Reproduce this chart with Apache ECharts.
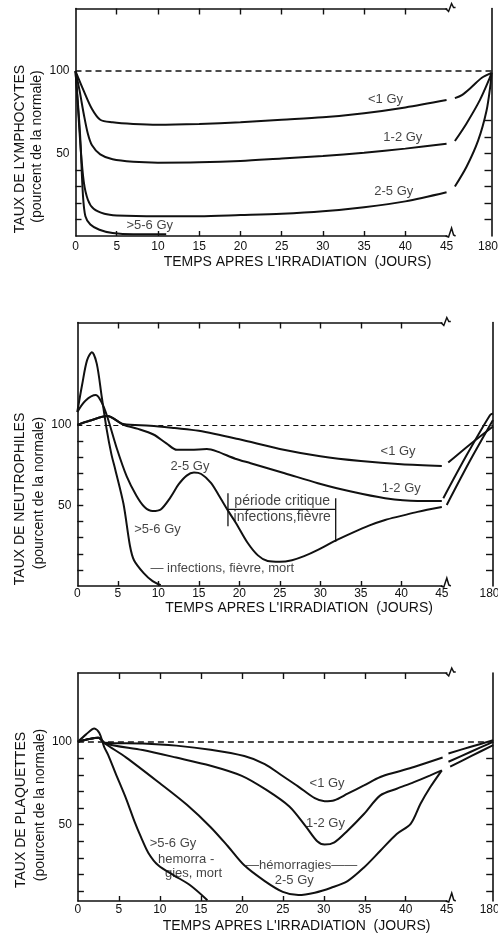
<!DOCTYPE html>
<html><head><meta charset="utf-8">
<script src="https://cdn.jsdelivr.net/npm/echarts@6/dist/echarts.min.js"></script>
<style>html,body{margin:0;padding:0;background:#fff}#c{width:498px;height:935px}</style>
</head><body><div id="c"></div>
<script>
// ---------- tick labels ----------
const xTickLabels = [0,5,10,15,20,25,30,35,40,45,180];
const xMinorTicks = [5,10,15,20,25,30,35,40];
const yTickLabels = [50,100];
const xTitle = "TEMPS APRES L'IRRADIATION  (JOURS)";

// ---------- panel 1 : lymphocytes ----------
const lymLt1     = [[0,100],[1,88],[2,77],[3,70.5],[4.5,69],[7,68],[10,67.5],[15,68],[20,69],[25,70.5],[30,72],[35,74.5],[40,78],[45,82.5]];
const lymLt1Late = [[70,83.6],[91,85.5],[121,90.5],[151,96],[180,99]];
const lym12      = [[0,100],[0.5,88],[1,74],[1.5,62],[2,55],[3,49.5],[4.5,46.5],[7,45],[10,44.5],[15,44.7],[20,45.5],[25,47],[30,48.5],[35,50.5],[40,53],[45,56]];
const lym12Late  = [[70,57.6],[105,68.3],[145,82.4],[175,96],[180,99]];
const lym25      = [[0,100],[0.3,78],[0.6,55],[1,33],[1.5,22],[2.2,16.5],[3.5,13.5],[5,12.5],[10,12],[15,12],[20,12.7],[25,13.5],[30,15],[35,17.5],[40,21],[45,26.5]];
const lym25Late  = [[70,30],[105,42],[140,58],[165,76],[177,92],[180,99]];
const lym56      = [[0,100],[0.55,62],[0.9,25],[1.2,12],[1.8,7],[2.9,3.8],[4.5,1.8],[7,1],[11,1]];
const lymLabels  = [
  {name:'<1 Gy', value:[37.6,83]},
  {name:'1-2 Gy', value:[39.7,59.6]},
  {name:'2-5 Gy', value:[38.6,27.3]},
  {name:'>5-6 Gy', value:[9,6.2]}
];

// ---------- panel 2 : neutrophiles ----------
const neuLt1     = [[0,100],[1.5,102.5],[3.7,105.5],[5.7,100.5],[9,99.5],[12,98],[15,96.3],[20,91],[25,85],[30,80.5],[35,77.5],[40,75.5],[45,74.5]];
const neuLt1Late = [[62,76.6],[120,88],[180,99]];
const neu12      = [[0,100],[1.5,102.5],[3.7,105.5],[5.7,100],[7.5,97.5],[9.4,94],[11,88.5],[12.3,84.5],[14,84.5],[16,85],[17.3,83.4],[19.5,79],[21.4,76.2],[25.6,70],[29.7,63.8],[33.8,58.6],[38,54.5],[42,52.8],[45,52.8]];
const neu12Late  = [[49,54.5],[111,81.4],[172,106],[180,107]];
const neu25      = [[0,108],[1,115],[2.3,118.5],[3,114],[3.7,105],[4.9,85],[6.1,68],[7.3,56],[8.3,49],[9.3,46.5],[10.3,47.5],[11.5,55],[12.5,63],[13.5,68.5],[14.4,70.4],[15.3,69.5],[16.5,64],[17.5,56],[18.7,46],[19.6,39],[21,27],[22.3,19],[23.5,15.5],[25,15],[26.5,16],[28,18.5],[29.7,22.4],[31.8,28],[33.8,32.7],[36,37.5],[38,41],[40,43.5],[42,46],[45,49]];
const neu25Late  = [[58,50.3],[120,78],[180,103]];
const neu56      = [[0,108],[0.6,125],[1.2,140],[1.8,145],[2.4,138],[3,118],[3.6,98],[4.2,82],[4.7,72],[5.7,51],[6.5,25],[7,16],[8.2,8],[9.3,3],[10.3,0.5]];
const neuBracketL = [[18.6,57.6],[18.6,37]];
const neuBracketH = [[18.6,47.6],[31.9,47.6]];
const neuBracketR = [[31.9,54.5],[31.9,27.5]];
const neuLabels  = [
  {name:'<1 Gy', value:[39.6,83.8]},
  {name:'1-2 Gy', value:[40,60.7]},
  {name:'2-5 Gy', value:[13.9,74]},
  {name:'>5-6 Gy', value:[9.9,35.4]},
  {name:'— infections, fièvre, mort', value:[17.9,11]}
];
const neuBoxLabels = [
  {name:'période critique', value:[25.3,52.6]},
  {name:'infections,fièvre', value:[25.3,42.6]}
];

// ---------- panel 3 : plaquettes ----------
const plaLt1     = [[0,100],[1.2,101.5],[2.5,102.5],[3.3,99.5],[7.9,99],[12,97.7],[16.2,95.2],[20.3,91.4],[22.8,86.6],[24.8,80],[26.9,73],[28.9,66],[30.1,64.2],[31.3,64.8],[32.9,68.7],[34.9,73.7],[36.9,78.8],[38.9,81.8],[41,84.8],[44.5,90.5]];
const plaLt1Late = [[50,93],[115,97],[180,101]];
const pla12      = [[0,100],[1.2,101.5],[2.5,102.5],[3.3,99],[7.9,95],[12,90.5],[16.2,85.6],[20,79.5],[23,71],[25.8,61],[27.8,49],[29.2,40],[30.1,38],[31.3,39.4],[32.9,46.4],[34.9,56.5],[36.9,67.7],[38.9,71.7],[41,75.7],[43,79.8],[44.4,82.8]];
const pla12Late  = [[50,88],[115,94],[180,100]];
const pla25      = [[0,100],[1.2,101.5],[2.5,102.5],[3.3,99],[5.9,90.5],[10,75],[13.3,62],[16.2,48.5],[18.3,37],[20.3,25.5],[22.8,16],[25,9.5],[26.9,7.6],[28.9,9],[30.9,12],[32.9,16],[34.9,24.2],[36.9,34.3],[38.9,44.4],[40.6,50.5],[41.8,62.6],[43,72.7],[44.4,82.8]];
const pla25Late  = [[55,85],[117,91.5],[180,98]];
const pla56      = [[0,100],[1,104.5],[2,108],[2.6,105.5],[3.2,97],[3.7,92],[4.6,81],[5.9,65.5],[6.9,52],[7.7,42.5],[8.6,33],[9.8,25.5],[11.7,19.5],[13.7,13.5],[15.8,4.5]];
const plaLabels  = [
  {name:'<1 Gy', value:[30.4,74.8]},
  {name:'1-2 Gy', value:[30.2,50.7]},
  {name:'2-5 Gy', value:[26.4,16.7]},
  {name:'>5-6 Gy', value:[11.6,38.5]},
  {name:'hemorra -', value:[13.2,28.8]},
  {name:'gies, mort', value:[14.1,20.6]},
  {name:'—hémorragies——', value:[27.3,25.7]}
];

// ---------- layout / style ----------
const INK = '#111';
const FONT = "'Liberation Sans', Arial, sans-serif";
const panels = [
  {grid:{left:75.5, top:8.5, width:416, height:227.5}, ymin:0, ymax:138, gap:5.45, yTicksL:[10,20,30,40], yTicksR:[10,20,30,40,50,60,70], labelMargin:5, nameGap:19, namePad:28},
  {grid:{left:77.3, top:322.5, width:415.7, height:263.5}, ymin:0, ymax:163.5, gap:6.32, yTicksL:[10,20,30,40,50,60,70,80,90], yTicksR:[10,20,30,40,50,60,70,80,90], labelMargin:2, nameGap:8, namePad:28},
  {grid:{left:77.9, top:673, width:415.3, height:228}, ymin:4, ymax:141.5, gap:5.67, yTicksL:[10,20,30,40,50,60,70,80,90], yTicksR:[10,20,30,40,50,60,70,80,90], labelMargin:3, nameGap:18, namePad:22}
];

const grids=[], xAxes=[], yAxes=[], series=[];
panels.forEach((p,k)=>{
  grids.push(Object.assign({outerBoundsMode:'none', containLabel:false}, p.grid));
  const axLine = {show:true, onZero:false, lineStyle:{color:INK, width:1.6}};
  const common = {type:'value', gridIndex:k, min:0, max:180,
    breaks:[{start:45, end:180, gap:p.gap}], breakArea:{show:false},
    axisLine:axLine, splitLine:{show:false}};
  xAxes.push(Object.assign({}, common, {position:'bottom',
    axisTick:{show:true, inside:true, length:5, customValues:xMinorTicks, lineStyle:{color:INK, width:1.4}},
    axisLabel:{show:true, customValues:xTickLabels, margin:p.labelMargin, color:INK, fontSize:12, fontFamily:FONT,
      formatter:function(v){ return v === 180 ? '{r|180}' : String(v); },
      rich:{r:{fontSize:12, fontFamily:FONT, color:INK, padding:[0,7,0,0]}}},
    name:xTitle, nameLocation:'middle', nameGap:p.nameGap,
    nameTextStyle:{color:INK, fontSize:14, fontFamily:FONT, padding:[0,0,0,p.namePad], verticalAlign:'top'}
  }));
  xAxes.push(Object.assign({}, common, {position:'top',
    axisTick:{show:true, inside:true, length:6, customValues:xMinorTicks, lineStyle:{color:INK, width:1.4}},
    axisLabel:{show:false}
  }));
  const ycommon = {type:'value', gridIndex:k, min:p.ymin, max:p.ymax, axisLine:axLine, splitLine:{show:false}};
  yAxes.push(Object.assign({}, ycommon, {position:'left',
    axisTick:{show:true, inside:true, length:6, customValues:p.yTicksL, lineStyle:{color:INK, width:1.4}},
    axisLabel:{show:true, customValues:yTickLabels, margin:6, color:INK, fontSize:12, fontFamily:FONT}
  }));
  yAxes.push(Object.assign({}, ycommon, {position:'right',
    axisTick:{show:true, inside:true, length:7, customValues:p.yTicksR, lineStyle:{color:INK, width:1.4}},
    axisLabel:{show:false}
  }));
});

function curve(data, k, extra){
  return Object.assign({type:'line', data:data, xAxisIndex:2*k, yAxisIndex:2*k,
    showSymbol:false, symbol:'none', smooth:0.3, silent:true, z:3,
    lineStyle:{color:INK, width:2}, itemStyle:{color:INK}}, extra||{});
}
function straight(data, k){
  return {type:'line', data:data, xAxisIndex:2*k, yAxisIndex:2*k, showSymbol:false, symbol:'none',
    smooth:false, silent:true, z:3, lineStyle:{color:INK, width:1.3}, itemStyle:{color:INK}};
}
function labels(data, k, size){
  return {type:'scatter', data:data, xAxisIndex:2*k, yAxisIndex:2*k, symbol:'circle', symbolSize:2, silent:true, z:5,
    itemStyle:{color:'rgba(0,0,0,0)'},
    label:{show:true, position:'inside', formatter:'{b}', color:INK, fontSize:size||13, fontFamily:FONT}};
}
const normalLine = {silent:true, symbol:['none','none'], label:{show:false},
  lineStyle:{color:INK, type:[6,4], width:1.5}, data:[{yAxis:100}]};

series.push(curve(lymLt1,0,{markLine:normalLine}), curve(lymLt1Late,0), curve(lym12,0), curve(lym12Late,0),
            curve(lym25,0), curve(lym25Late,0), curve(lym56,0), labels(lymLabels,0));
series.push(curve(neuLt1,1,{markLine:Object.assign({},normalLine,{lineStyle:{color:INK,type:[5,4],width:1.2}})}),
            curve(neuLt1Late,1), curve(neu12,1), curve(neu12Late,1),
            curve(neu25,1), curve(neu25Late,1), curve(neu56,1),
            straight(neuBracketL,1), straight(neuBracketH,1), straight(neuBracketR,1),
            labels(neuLabels,1), labels(neuBoxLabels,1,14));
series.push(curve(plaLt1,2,{markLine:normalLine}), curve(plaLt1Late,2), curve(pla12,2), curve(pla12Late,2),
            curve(pla25,2), curve(pla25Late,2), curve(pla56,2), labels(plaLabels,2));

const yNames = [
  ['TAUX DE LYMPHOCYTES', 20.5, 149, '(pourcent de la normale)', 37.5, 146.5],
  ['TAUX DE NEUTROPHILES', 20, 499, '(pourcent de la normale)', 39, 493],
  ['TAUX DE PLAQUETTES', 21, 810, '(pourcent de la normale)', 40, 805]
];
const graphics = [];
yNames.forEach(n=>{
  graphics.push({type:'text', x:n[1], y:n[2], rotation:Math.PI/2, z:20,
    style:{text:n[0], fill:INK, font:"14px "+FONT, align:'center', verticalAlign:'middle', textAlign:'center', textVerticalAlign:'middle'}});
  graphics.push({type:'text', x:n[4], y:n[5], rotation:Math.PI/2, z:20,
    style:{text:n[3], fill:INK, font:"14px "+FONT, align:'center', verticalAlign:'middle', textAlign:'center', textVerticalAlign:'middle'}});
});

const chart = echarts.init(document.getElementById('c'), null, {renderer:'canvas'});
chart.setOption({animation:false, backgroundColor:'#fff', grid:grids, xAxis:xAxes, yAxis:yAxes, series:series, graphic:graphics});

// axis-break zigzags at the 45 -> 180 break
panels.forEach((p,k)=>{
  const cx = chart.convertToPixel({xAxisIndex:2*k}, 45) + 4;
  const yT = p.grid.top, yB = p.grid.top + p.grid.height;
  graphics.push({type:'rect', z:30, shape:{x:cx-3, y:yT-2, width:6, height:4}, style:{fill:'#fff'}});
  graphics.push({type:'polyline', z:31, shape:{points:[[cx-5,yT],[cx-2,yT+3],[cx+1,yT-5],[cx+3,yT-1],[cx+5,yT-1]]}, style:{stroke:INK, lineWidth:1.5, fill:null}});
  graphics.push({type:'rect', z:30, shape:{x:cx-3, y:yB-2, width:6, height:4}, style:{fill:'#fff'}});
  graphics.push({type:'polyline', z:31, shape:{points:[[cx-5,yB],[cx-2,yB+1],[cx+1,yB-8],[cx+3,yB-1],[cx+5,yB]]}, style:{stroke:INK, lineWidth:1.5, fill:null}});
});
chart.setOption({graphic:graphics});
</script>
</body></html>
